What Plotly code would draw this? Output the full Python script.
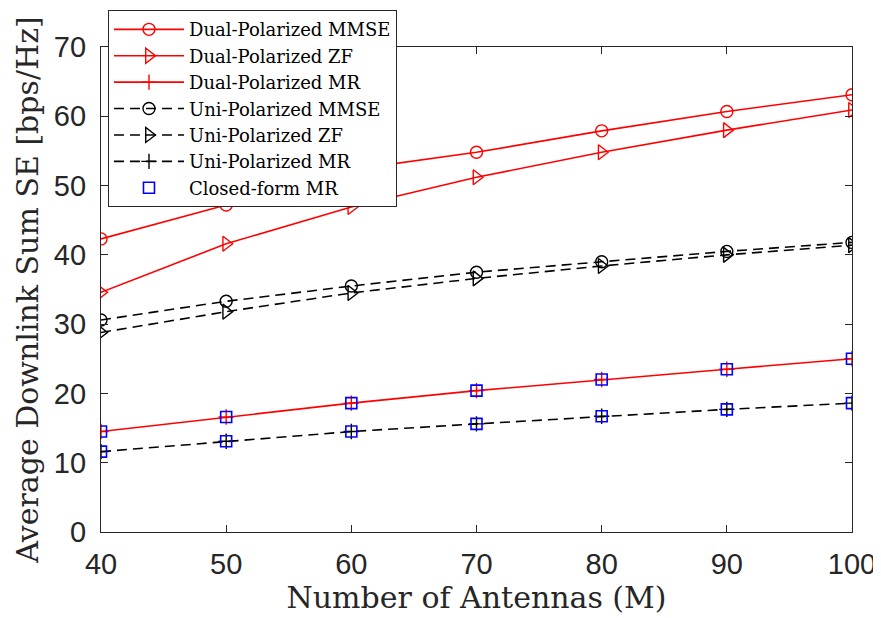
import plotly.graph_objects as go

antennas = [40, 50, 60, 70, 80, 90, 100]
dual_mmse = [42.3, 47.2, 52.3, 54.8, 57.9, 60.7, 63.1]
dual_zf = [34.6, 41.6, 46.9, 51.2, 54.8, 58.0, 60.9]
dual_mr = [14.5, 16.6, 18.6, 20.4, 22.0, 23.5, 25.0]
uni_mmse = [30.6, 33.3, 35.5, 37.5, 39.0, 40.5, 41.8]
uni_zf = [28.8, 31.8, 34.5, 36.6, 38.4, 40.0, 41.4]
uni_mr = [11.6, 13.1, 14.5, 15.6, 16.7, 17.7, 18.6]
closed_dual = [14.5, 16.6, 18.6, 20.4, 22.0, 23.5, 25.0]
closed_uni = [11.6, 13.1, 14.5, 15.6, 16.7, 17.7, 18.6]

serif = "DejaVu Serif, serif"
sans = "Liberation Sans, Arial, sans-serif"

fig = go.Figure()

def add(name, y, color, dash, symbol, size):
    fig.add_trace(go.Scatter(
        x=antennas, y=y, name=name, mode="lines+markers",
        line=dict(color=color, width=1.6, dash=dash),
        marker=dict(symbol=symbol, size=size, color=color,
                    line=dict(color=color, width=1.4)),
    ))

add("Dual-Polarized MMSE", dual_mmse, "#ff0000", "solid", "circle-open", 12)
add("Dual-Polarized ZF", dual_zf, "#ff0000", "solid", "triangle-right-open", 13)
add("Dual-Polarized MR", dual_mr, "#ff0000", "solid", "cross-thin-open", 11)
add("Uni-Polarized MMSE", uni_mmse, "#000000", "10px,6px", "circle-open", 12)
add("Uni-Polarized ZF", uni_zf, "#000000", "10px,6px", "triangle-right-open", 13)
add("Uni-Polarized MR", uni_mr, "#000000", "10px,6px", "cross-thin-open", 11)

fig.add_trace(go.Scatter(
    x=antennas + antennas, y=closed_dual + closed_uni,
    name="Closed-form MR", mode="markers",
    marker=dict(symbol="square-open", size=11, color="#0000ff",
                line=dict(color="#0000ff", width=1.6)),
))

axis_common = dict(
    showline=True, linecolor="#262626", linewidth=1.2, mirror="ticks",
    ticks="inside", ticklen=7, tickcolor="#262626", tickwidth=1,
    showgrid=False, zeroline=False, automargin=False,
    tickfont=dict(family=sans, size=29, color="#262626"),
)

fig.update_layout(
    width=873, height=610,
    margin=dict(l=93, r=29, t=39, b=86, autoexpand=False),
    paper_bgcolor="white", plot_bgcolor="white",
    xaxis=dict(range=[40, 100], tickvals=[40, 50, 60, 70, 80, 90, 100],
               ticklabelstandoff=6,
               title=dict(text="Number of Antennas (M)",
                          font=dict(family=serif, size=30, color="#262626"),
                          standoff=6),
               **axis_common),
    yaxis=dict(range=[0, 70], tickvals=[0, 10, 20, 30, 40, 50, 60, 70],
               ticklabelstandoff=8,
               title=dict(text="Average Downlink Sum SE [bps/Hz]",
                          font=dict(family=serif, size=30, color="#262626"),
                          standoff=6),
               **axis_common),
    legend=dict(x=0.0093, y=1.076, xanchor="left", yanchor="top",
                bgcolor="white", bordercolor="#262626", borderwidth=1,
                font=dict(family=serif, size=18, color="#000000"),
                tracegroupgap=0, itemwidth=70),
    showlegend=True,
)

fig.write_html("out.html")
